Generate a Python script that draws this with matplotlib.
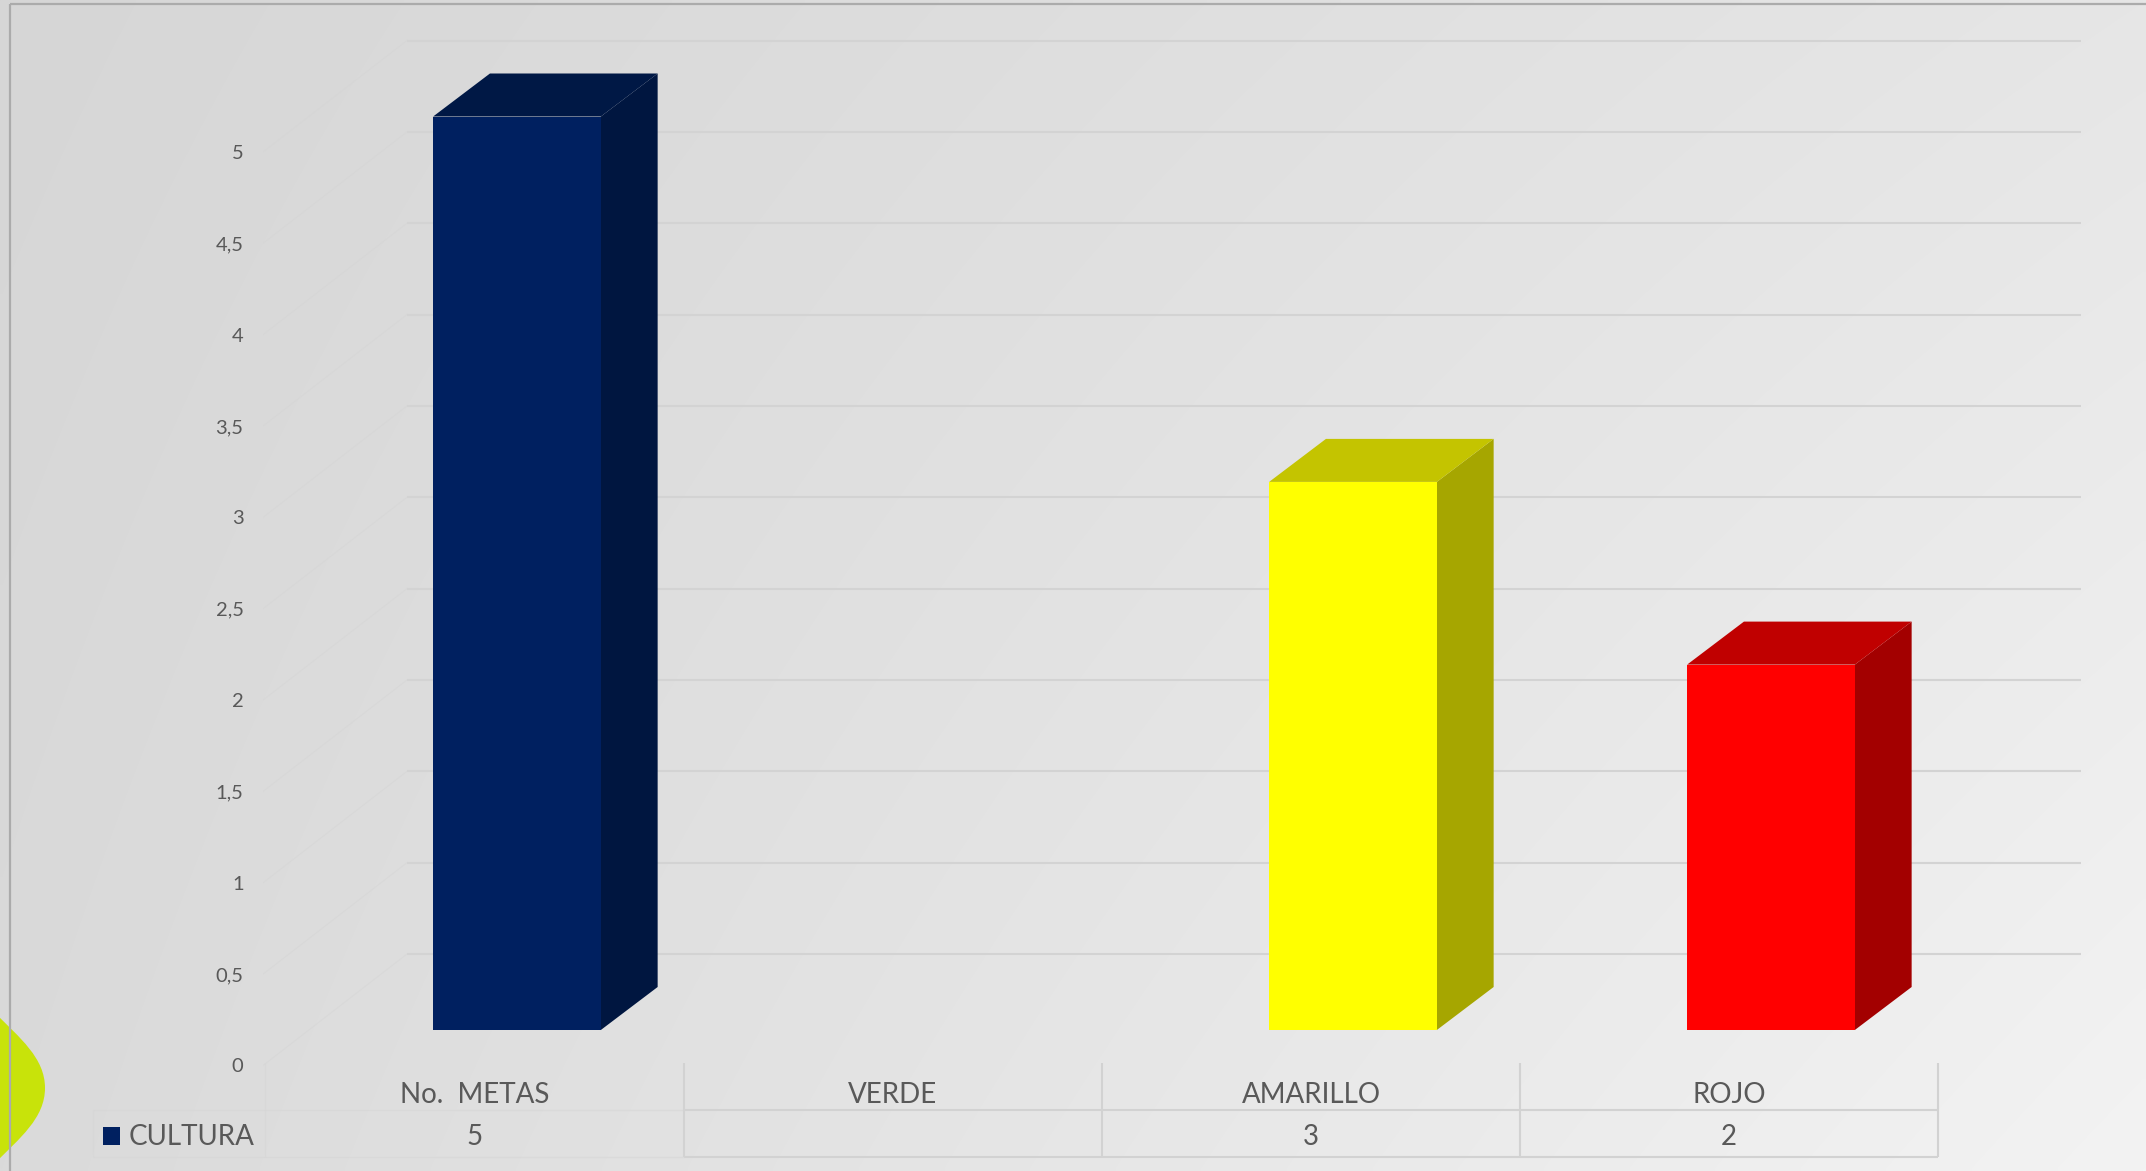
import numpy as np
import matplotlib
matplotlib.use("Agg")
import matplotlib.pyplot as plt
from matplotlib.patches import Polygon, PathPatch, Rectangle
from matplotlib.path import Path
from matplotlib.ticker import FixedLocator, FuncFormatter

# ---------------- data ----------------
categories = ["No.  METAS", "VERDE", "AMARILLO", "ROJO"]
values = [5, np.nan, 3, 2]
series_name = "CULTURA"
y_ticks = [0, 0.5, 1, 1.5, 2, 2.5, 3, 3.5, 4, 4.5, 5]
front_colors = ["#002060", "#00b050", "#ffff00", "#ff0000"]
top_colors = ["#001845", "#008a3e", "#c4c400", "#c00000"]
side_colors = ["#001640", "#006f32", "#a6a600", "#a30000"]

# ---------------- layout constants ----------------
W, H = 2146, 1171
DPI = 100
TXT = "#595959"
GRID = "#d3d3d3"
plt.rcParams["font.family"] = ["Lato", "DejaVu Sans"]

fig = plt.figure(figsize=(W / DPI, H / DPI), dpi=DPI)

# background axes (pixel coordinates)
bg = fig.add_axes([0, 0, 1, 1], zorder=0)
bg.set_xlim(0, W)
bg.set_ylim(H, 0)
bg.axis("off")
xx, yy = np.meshgrid(np.linspace(0, 1, 400), np.linspace(0, 1, 220))
grad = (214 + 16 * xx + 4 * yy + 9 * xx * yy) / 255.0
bg.imshow(np.dstack([grad, grad, grad]), extent=[0, W, H, 0], aspect="auto",
          interpolation="bilinear", zorder=0)
# decorative green shape at bottom-left
verts = [(-6, 1012), (20, 1038), (45, 1058), (45, 1088),
         (45, 1118), (20, 1138), (-6, 1164), (-6, 1012)]
codes = [Path.MOVETO, Path.CURVE4, Path.CURVE4, Path.CURVE4,
         Path.CURVE4, Path.CURVE4, Path.CURVE4, Path.CLOSEPOLY]
bg.add_patch(PathPatch(Path(verts, codes), facecolor="#c8e30a", edgecolor="none", zorder=1))
# outer frame
bg.plot([10, W], [4, 4], color="#ababab", lw=1.6, zorder=2, solid_capstyle="butt")
bg.plot([10, 10], [4, H], color="#ababab", lw=1.6, zorder=2, solid_capstyle="butt")

# main axes: x = category index, y = value (front/label plane)
PX_X = 418.0          # px per category
PX_Y = 182.7          # px per value unit
X0 = 475.0            # px of category 0 centre
Y0 = 1065.5           # px (from top) of value 0 on label plane
left_px = 263.0
ax = fig.add_axes([left_px / W, 0, 1 - left_px / W, 1], zorder=1)
ax.set_facecolor("none")
ax.set_xlim((left_px - X0) / PX_X, (W - X0) / PX_X)
ax.set_ylim((Y0 - H) / PX_Y, Y0 / PX_Y)
for s in ax.spines.values():
    s.set_visible(False)
ax.xaxis.set_visible(False)
ax.yaxis.set_major_locator(FixedLocator(y_ticks))
ax.yaxis.set_major_formatter(FuncFormatter(lambda v, p: f"{v:g}".replace(".", ",")))
ax.tick_params(axis="y", length=0, pad=14.0, labelsize=14.5, labelcolor=TXT)

# oblique depth offsets (data units)
wall_dx, wall_dy = 144 / PX_X, 111.5 / PX_Y
front_dx, front_dy = 42 / PX_X, 35.5 / PX_Y
depth_dx, depth_dy = 56.8 / PX_X, 43 / PX_Y
bar_w = 167.7 / PX_X
xmin = ax.get_xlim()[0]
wall_right = (2081 - X0) / PX_X

# walls gridlines
for v in y_ticks:
    ax.plot([xmin, xmin + wall_dx], [v, v + wall_dy], color="#d4d4d4", lw=0.8,
            alpha=0.45, zorder=1)
    ax.plot([xmin + wall_dx, wall_right], [v + wall_dy, v + wall_dy],
            color=GRID, lw=1.5, zorder=1, solid_capstyle="butt")

# 3D-looking bars
idx = np.arange(len(categories))
vals = np.array(values, dtype=float)
ok = ~np.isnan(vals)
xl = idx[ok] + front_dx - bar_w / 2
ax.bar(idx[ok] + front_dx, vals[ok], width=bar_w, bottom=front_dy,
       color=[front_colors[i] for i in idx[ok]], edgecolor="none", zorder=4)
for i, v, x in zip(idx[ok], vals[ok], xl):
    xr = x + bar_w
    b = front_dy
    ax.add_patch(Polygon([(xr, b), (xr + depth_dx, b + depth_dy),
                          (xr + depth_dx, b + depth_dy + v), (xr, b + v)],
                         closed=True, facecolor=side_colors[i], edgecolor="none", zorder=3))
    ax.add_patch(Polygon([(x, b + v), (x + depth_dx, b + v + depth_dy),
                          (xr + depth_dx, b + v + depth_dy), (xr, b + v)],
                         closed=True, facecolor=top_colors[i], edgecolor="none", zorder=3))

# data table
row_top = (Y0 - 1063) / PX_Y
row_mid = (Y0 - 1110) / PX_Y
row_bot = (Y0 - 1157) / PX_Y
hdr_y = (Y0 - 1095) / PX_Y
val_y = (Y0 - 1137) / PX_Y
leg_l = (93 - X0) / PX_X
leg_r = (265 - X0) / PX_X
n = len(categories)
tbl_r = n - 0.5
line_kw = dict(color="#d2d2d2", lw=1.5, zorder=2, clip_on=False, solid_capstyle="butt")
faint_kw = dict(color="#d6d6d6", lw=1.0, alpha=0.6, zorder=2, clip_on=False,
                solid_capstyle="butt")
ax.plot([0.5, tbl_r], [row_mid, row_mid], **line_kw)
ax.plot([0.5, tbl_r], [row_bot, row_bot], **line_kw)
ax.plot([leg_l, 0.5], [row_mid, row_mid], **faint_kw)
ax.plot([leg_l, 0.5], [row_bot, row_bot], **faint_kw)
ax.plot([leg_l, leg_l], [row_mid, row_bot], **faint_kw)
ax.plot([leg_r, leg_r], [row_top, row_bot], **faint_kw)
for k in range(n):
    ax.plot([k + 0.5, k + 0.5], [row_top, row_bot], **line_kw)

for k, (c, v) in enumerate(zip(categories, values)):
    ax.text(k, hdr_y, c, ha="center", va="center", fontsize=20, color=TXT, clip_on=False)
    if not np.isnan(v):
        ax.text(k, val_y, f"{v:g}", ha="center", va="center", fontsize=20, color=TXT, clip_on=False)

# legend key inside the table
sq_w = 17 / PX_X
sq_h = 18 / PX_Y
ax.add_patch(Rectangle(((103 - X0) / PX_X, val_y - sq_h / 2 + 0.005), sq_w, sq_h,
                       facecolor=front_colors[0], edgecolor="none", clip_on=False, zorder=5))
ax.text((129 - X0) / PX_X, val_y, series_name, ha="left", va="center",
        fontsize=20, color=TXT, clip_on=False)

fig.savefig("out.png", dpi=DPI)
